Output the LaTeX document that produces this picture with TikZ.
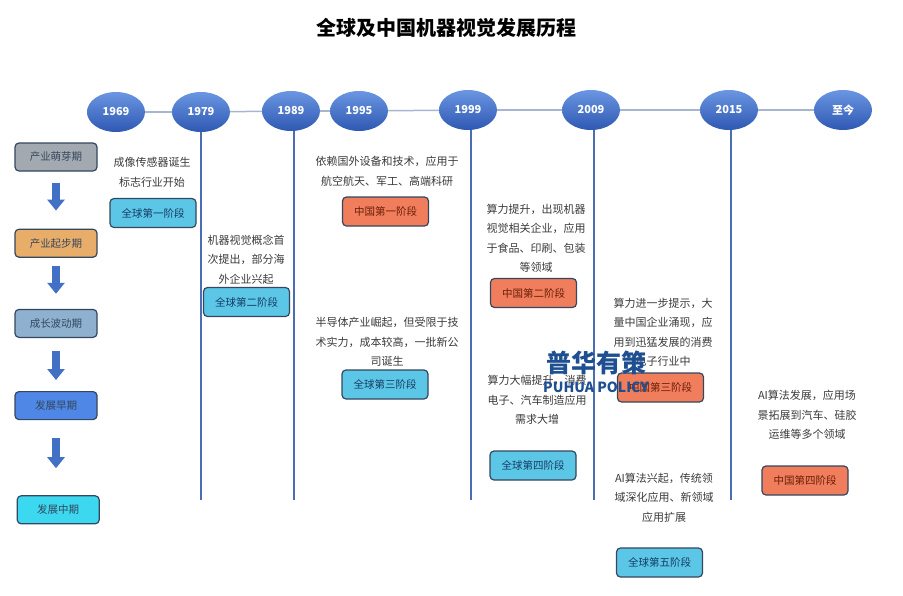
\documentclass[tikz,border=0pt]{standalone}
\usepackage{fontspec}
\setmainfont{Noto Sans CJK SC}
\usetikzlibrary{shapes}
\usetikzlibrary{positioning}
\usetikzlibrary{arrows.meta}

\definecolor{yeartop}{HTML}{6A96E2}
\definecolor{yearbot}{HTML}{2F58B2}
\definecolor{axisgray}{HTML}{A7B6D0}
\definecolor{eraline}{HTML}{4A6DB3}
\definecolor{edgedark}{HTML}{34475E}
\definecolor{notegray}{HTML}{3A3A3A}
\definecolor{globalcyan}{HTML}{5BC6E6}
\definecolor{globaltext}{HTML}{173D66}
\definecolor{chinaorange}{HTML}{F07E5C}
\definecolor{chinatext}{HTML}{6B1E0A}
\definecolor{arrowblue}{HTML}{4170C4}
\definecolor{markblue}{HTML}{1D4F91}
\definecolor{sproutgray}{HTML}{A3A9B0}
\definecolor{risetan}{HTML}{E9AD6A}
\definecolor{swingsteel}{HTML}{8EB1CF}
\definecolor{earlyblue}{HTML}{4F87E6}
\definecolor{midcyan}{HTML}{3CD8F0}

\tikzset{
  year/.style={ellipse, minimum width=58pt, minimum height=40pt, inner sep=0pt,
    top color=yeartop, bottom color=yearbot, text=white,
    font=\bfseries\fontsize{11}{13}\selectfont},
  period/.style={draw=edgedark, line width=1.2pt, rounded corners=4pt,
    minimum width=82pt, minimum height=28pt, inner sep=0pt,
    font=\fontsize{10.5}{12}\selectfont, text=edgedark},
  stage/.style={draw=edgedark, line width=1.2pt, rounded corners=4pt,
    minimum width=86pt, minimum height=29pt, inner sep=0pt,
    font=\fontsize{10.5}{12}\selectfont},
  global/.style={stage, fill=globalcyan, text=globaltext},
  china/.style={stage, fill=chinaorange, text=chinatext},
  note/.style={align=center, inner sep=0pt, text=notegray,
    font=\fontsize{11}{19.5}\selectfont},
  axis/.style={line width=1.5pt, draw=axisgray},
  era/.style={line width=2pt, draw=eraline},
  down/.style={line width=8pt, draw=arrowblue, -{Triangle[width=17pt,length=11pt]}}
}

\begin{document}
\begin{tikzpicture}[x=1pt, y=-1pt]

    \useasboundingbox (0,0) rectangle (903,595);

    \node(title)[font=\bfseries\fontsize{20}{24}\selectfont] at (446,28) {全球及中国机器视觉发展历程};

    % years
    \node(y1969)[year] at (116,112) {1969};
    \node(y1979)[year] at (201,112) {1979};
    \node(y1989)[year] at (291,111) {1989};
    \node(y1995)[year] at (359,111) {1995};
    \node(y1999)[year] at (468,110) {1999};
    \node(y2009)[year] at (591,110) {2009};
    \node(y2015)[year] at (729,110) {2015};
    \node(ynow)[year] at (843,110) {至今};

    \draw[axis] (y1969) -- (y1979);
    \draw[axis] (y1979) -- (y1989);
    \draw[axis] (y1989) -- (y1995);
    \draw[axis] (y1995) -- (y1999);
    \draw[axis] (y1999) -- (y2009);
    \draw[axis] (y2009) -- (y2015);
    \draw[axis] (y2015) -- (ynow);

    \coordinate(e1979) at (201,500);
    \coordinate(e1989) at (294,500);
    \coordinate(e1999) at (471,500);
    \coordinate(e2009) at (594,500);
    \coordinate(e2015) at (731,500);

    \draw[era] (e1979 |- y1979.south) -- (e1979);
    \draw[era] (e1989 |- y1989.south) -- (e1989);
    \draw[era] (e1999 |- y1999.south) -- (e1999);
    \draw[era] (e2009 |- y2009.south) -- (e2009);
    \draw[era] (e2015 |- y2015.south) -- (e2015);

    % periods
    \node(sprout)[period, fill=sproutgray] at (56,157) {产业萌芽期};
    \node(rise)[period, fill=risetan, below=57pt of sprout] {产业起步期};
    \node(swing)[period, fill=swingsteel, below=51pt of rise] {成长波动期};
    \node(early)[period, fill=earlyblue, below=53pt of swing] {发展早期};
    \node(mid)[period, fill=midcyan, below right=75pt and -81pt of early] {发展中期};

    \draw[down, shorten <=11pt, shorten >=18pt] (sprout) -- (rise);
    \draw[down, shorten <=8pt, shorten >=15pt] (rise) -- (swing);
    \draw[down, shorten <=13pt, shorten >=11pt] (swing) -- (early);
    \draw[down, shorten <=18pt, shorten >=27pt] (early) -- (early |- mid.north);

    % notes and stages
    \node(n1)[note] at (152,172.5) {成像传感器诞生\\标志行业开始};
    \node(g1)[global] at (153,213) {全球第一阶段};

    \node(n2)[note] at (246,259.5) {机器视觉概念首\\次提出，部分海\\外企业兴起};
    \node(g2)[global] at (246.5,302) {全球第二阶段};

    \node(n3)[note] at (387,171.5) {依赖国外设备和技术，应用于\\航空航天、军工、高端科研};
    \node(c1)[china] at (385.5,211.5) {中国第一阶段};

    \node(n4)[note] at (536,238.5) {算力提升，出现机器\\视觉相关企业，应用\\于食品、印刷、包装\\等领域};
    \node(c2)[china] at (533.5,293) {中国第二阶段};

    \node(n5)[note] at (387,342) {半导体产业崛起，但受限于技\\术实力，成本较高，一批新公\\司诞生};
    \node(g3)[global] at (385,384.5) {全球第三阶段};

    \node(n6)[note] at (537,400) {算力大幅提升，消费\\电子、汽车制造应用\\需求大增};
    \node(g4)[global] at (533,465.5) {全球第四阶段};

    \node(n7)[note] at (663,332.5) {算力进一步提示，大\\量中国企业涌现，应\\用到迅猛发展的消费\\电子行业中};
    \node(c3)[china] at (660.5,387.5) {中国第三阶段};

    \node(n8)[note] at (664,497.5) {AI算法兴起，传统领\\域深化应用、新领域\\应用扩展};
    \node(g5)[global] at (659.5,562.5) {全球第五阶段};

    \node(n9)[note] at (807,415) {AI算法发展，应用场\\景拓展到汽车、硅胶\\运维等多个领域};
    \node(c4)[china] at (805,480.5) {中国第四阶段};

    % watermark
    \node(mark)[text=markblue, font=\bfseries\fontsize{25}{28}\selectfont, inner sep=0pt] at (596,363) {普华有策};
    \node(markpy)[text=markblue, font=\bfseries\fontsize{14}{16}\selectfont, inner sep=0pt, below=6pt of mark] {PUHUA POLICY};

\end{tikzpicture}
\end{document}
